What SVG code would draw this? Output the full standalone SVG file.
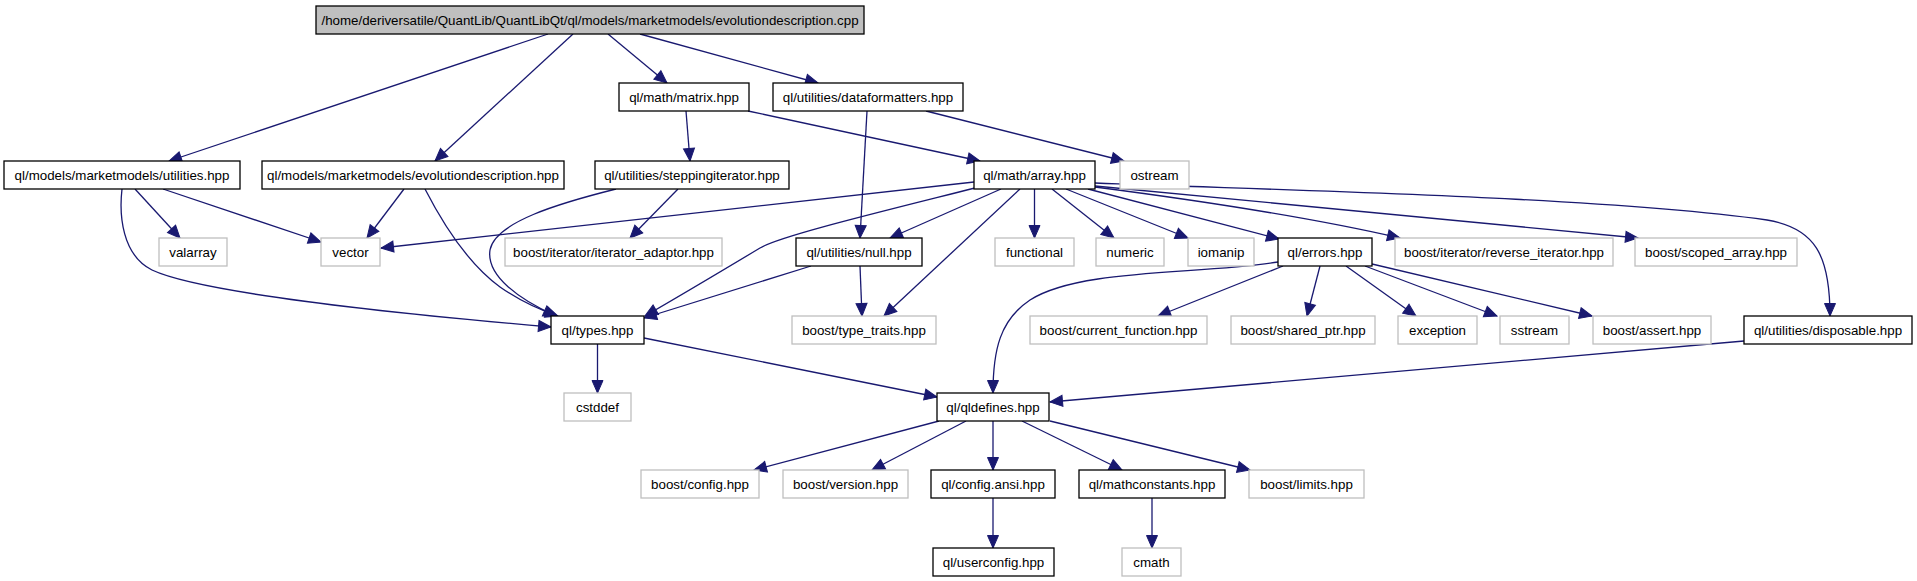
<svg xmlns="http://www.w3.org/2000/svg" width="1917" height="581" viewBox="0 0 1917 581">
<style>
text{font-family:"Liberation Sans",Arial,Helvetica,sans-serif;font-size:13.33px;text-anchor:middle;fill:#000}
.b{fill:#fff;stroke:#000;stroke-width:1.3}
.g{fill:#fff;stroke:#bfbfbf;stroke-width:1.3}
.root{fill:#bfbfbf;stroke:#000;stroke-width:1.3}
#edges path{fill:none;stroke:#191970;stroke-width:1.3;marker-end:url(#a)}
</style>
<defs>
<marker id="a" markerUnits="userSpaceOnUse" markerWidth="14" markerHeight="13" refX="13" refY="6" orient="auto" viewBox="0 0 14 13" overflow="visible">
<path d="M0.5,0.5 L13,6 L0.5,11.5 z" fill="#191970" stroke="#191970" stroke-width="1"/>
</marker>
</defs>
<rect width="1917" height="581" fill="#fff"/>
<g id="edges">
<path d="M548,34 L169,161"/>
<path d="M573,34 L435,161"/>
<path d="M608,34 L667,83"/>
<path d="M640,34 L818,83"/>
<path d="M686,111 L690,161"/>
<path d="M748,111 L980,161"/>
<path d="M926,111 L1124,161"/>
<path d="M867,111 L860,238"/>
<path d="M135,189 L180,238"/>
<path d="M163,189 L321,242"/>
<path d="M122,189 C119,215 122,255 152,270 C190,288 330,308 551,327"/>
<path d="M404,189 L367,238"/>
<path d="M425,189 C445,228 470,265 500,287 C520,301 540,310 558,316"/>
<path d="M616,189 C560,203 495,222 490,250 C486,276 520,300 556,316"/>
<path d="M678,189 L630,238"/>
<path d="M974,182 L381,248"/>
<path d="M975,188 C880,212 780,236 760,248 C735,263 690,290 645,316"/>
<path d="M1001,189 L890,238"/>
<path d="M1020,189 L884,316"/>
<path d="M1034.5,189 L1034.5,238"/>
<path d="M1052,189 L1114,238"/>
<path d="M1066,189 L1188,238"/>
<path d="M1088,189 L1279,239"/>
<path d="M1095,187 C1180,198 1300,215 1400,238"/>
<path d="M1095,186 L1638,238"/>
<path d="M1095,183 C1300,191 1600,197 1767,220 C1815,228 1830,255 1830,316"/>
<path d="M811,266 L644,318"/>
<path d="M860,266 L862,316"/>
<path d="M1278,262 C1200,275 1080,268 1030,300 C1000,320 993,350 993,393"/>
<path d="M1283,266 L1158,316"/>
<path d="M1320,266 L1307,316"/>
<path d="M1346,266 L1416,316"/>
<path d="M1365,266 L1497,316"/>
<path d="M1372,264 L1592,316"/>
<path d="M597.5,343 L597.5,393"/>
<path d="M644,338 L937,397"/>
<path d="M1744,341 L1050,402"/>
<path d="M939,421 L754,470"/>
<path d="M966,421 L872,470"/>
<path d="M993,421 L993,470"/>
<path d="M1022,421 L1122,470"/>
<path d="M1050,421 L1250,470"/>
<path d="M993,498 L993,548"/>
<path d="M1152,498 L1152,548"/>
</g>
<g id="n_cpp"><rect class="root" x="316" y="6" width="548" height="28"/><text x="590" y="24.7">/home/deriversatile/QuantLib/QuantLibQt/ql/models/marketmodels/evolutiondescription.cpp</text></g>
<g id="n_matrix"><rect class="b" x="619" y="83" width="130" height="28"/><text x="684" y="101.7">ql/math/matrix.hpp</text></g>
<g id="n_dataformatters"><rect class="b" x="773" y="83" width="190" height="28"/><text x="868" y="101.7">ql/utilities/dataformatters.hpp</text></g>
<g id="n_utilities"><rect class="b" x="4" y="161" width="236" height="28"/><text x="122" y="179.7">ql/models/marketmodels/utilities.hpp</text></g>
<g id="n_evolution"><rect class="b" x="262" y="161" width="302" height="28"/><text x="413" y="179.7">ql/models/marketmodels/evolutiondescription.hpp</text></g>
<g id="n_stepping"><rect class="b" x="595" y="161" width="194" height="28"/><text x="692" y="179.7">ql/utilities/steppingiterator.hpp</text></g>
<g id="n_array"><rect class="b" x="974" y="161" width="121" height="28"/><text x="1034.5" y="179.7">ql/math/array.hpp</text></g>
<g id="n_ostream"><rect class="g" x="1120" y="161" width="69" height="28"/><text x="1154.5" y="179.7">ostream</text></g>
<g id="n_valarray"><rect class="g" x="159" y="238" width="68" height="28"/><text x="193" y="256.7">valarray</text></g>
<g id="n_vector"><rect class="g" x="321" y="238" width="59" height="28"/><text x="350.5" y="256.7">vector</text></g>
<g id="n_iteradaptor"><rect class="g" x="505" y="238" width="217" height="28"/><text x="613.5" y="256.7">boost/iterator/iterator_adaptor.hpp</text></g>
<g id="n_null"><rect class="b" x="796" y="238" width="126" height="28"/><text x="859" y="256.7">ql/utilities/null.hpp</text></g>
<g id="n_functional"><rect class="g" x="995" y="238" width="79" height="28"/><text x="1034.5" y="256.7">functional</text></g>
<g id="n_numeric"><rect class="g" x="1096" y="238" width="68" height="28"/><text x="1130" y="256.7">numeric</text></g>
<g id="n_iomanip"><rect class="g" x="1188" y="238" width="66" height="28"/><text x="1221" y="256.7">iomanip</text></g>
<g id="n_errors"><rect class="b" x="1278" y="238" width="94" height="28"/><text x="1325" y="256.7">ql/errors.hpp</text></g>
<g id="n_reverse"><rect class="g" x="1395" y="238" width="218" height="28"/><text x="1504" y="256.7">boost/iterator/reverse_iterator.hpp</text></g>
<g id="n_scoped"><rect class="g" x="1635" y="238" width="162" height="28"/><text x="1716" y="256.7">boost/scoped_array.hpp</text></g>
<g id="n_types"><rect class="b" x="551" y="316" width="93" height="28"/><text x="597.5" y="334.7">ql/types.hpp</text></g>
<g id="n_typetraits"><rect class="g" x="792" y="316" width="144" height="28"/><text x="864" y="334.7">boost/type_traits.hpp</text></g>
<g id="n_currentfunction"><rect class="g" x="1030" y="316" width="177" height="28"/><text x="1118.5" y="334.7">boost/current_function.hpp</text></g>
<g id="n_sharedptr"><rect class="g" x="1231" y="316" width="144" height="28"/><text x="1303" y="334.7">boost/shared_ptr.hpp</text></g>
<g id="n_exception"><rect class="g" x="1398" y="316" width="79" height="28"/><text x="1437.5" y="334.7">exception</text></g>
<g id="n_sstream"><rect class="g" x="1500" y="316" width="69" height="28"/><text x="1534.5" y="334.7">sstream</text></g>
<g id="n_assert"><rect class="g" x="1593" y="316" width="118" height="28"/><text x="1652" y="334.7">boost/assert.hpp</text></g>
<g id="n_disposable"><rect class="b" x="1744" y="316" width="168" height="28"/><text x="1828" y="334.7">ql/utilities/disposable.hpp</text></g>
<g id="n_cstddef"><rect class="g" x="564" y="393" width="67" height="28"/><text x="597.5" y="411.7">cstddef</text></g>
<g id="n_qldefines"><rect class="b" x="937" y="393" width="112" height="28"/><text x="993" y="411.7">ql/qldefines.hpp</text></g>
<g id="n_config"><rect class="g" x="641" y="470" width="118" height="28"/><text x="700" y="488.7">boost/config.hpp</text></g>
<g id="n_version"><rect class="g" x="783" y="470" width="125" height="28"/><text x="845.5" y="488.7">boost/version.hpp</text></g>
<g id="n_configansi"><rect class="b" x="931" y="470" width="124" height="28"/><text x="993" y="488.7">ql/config.ansi.hpp</text></g>
<g id="n_mathconstants"><rect class="b" x="1079" y="470" width="146" height="28"/><text x="1152" y="488.7">ql/mathconstants.hpp</text></g>
<g id="n_limits"><rect class="g" x="1249" y="470" width="115" height="28"/><text x="1306.5" y="488.7">boost/limits.hpp</text></g>
<g id="n_userconfig"><rect class="b" x="933" y="548" width="121" height="28"/><text x="993.5" y="566.7">ql/userconfig.hpp</text></g>
<g id="n_cmath"><rect class="g" x="1122" y="548" width="59" height="28"/><text x="1151.5" y="566.7">cmath</text></g>
</svg>
